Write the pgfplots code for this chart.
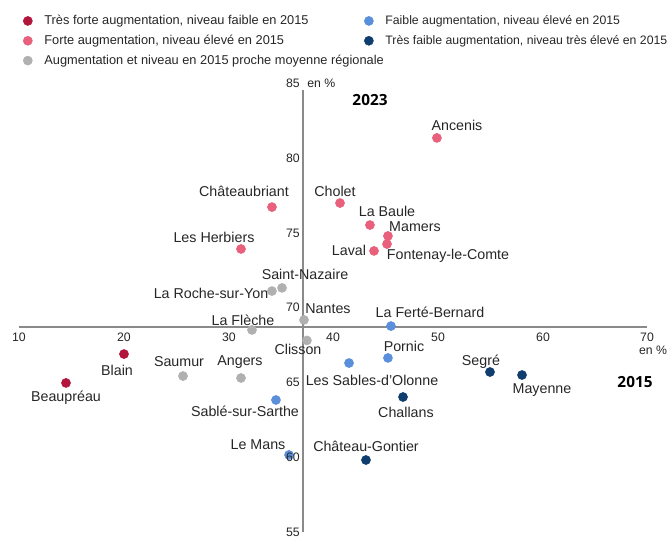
\documentclass[border=0pt]{standalone}
\usepackage{fontspec}
\setmainfont{Liberation Sans}
\newfontfamily\yearfont{Open Sans}
\usepackage{pgfplots}
\pgfplotsset{compat=1.18}
\definecolor{tresforte}{HTML}{B2163C}
\definecolor{forte}{HTML}{E9607C}
\definecolor{gris}{HTML}{B0B0B0}
\definecolor{faible}{HTML}{5A8FDB}
\definecolor{tresfaible}{HTML}{0F3D6E}
\definecolor{axisgray}{HTML}{8A8A8A}
\newcommand{\lab}[3]{\node[font=\fontsize{10.7}{12}\selectfont, inner sep=0pt, text=black!85] at ({(#1-19)*0.75pt},{(532-#2)*0.75pt}) {#3};}
\newcommand{\tk}[4]{\node[font=\fontsize{9.2}{11}\selectfont, inner sep=0pt, anchor=#4, text=black!85] at ({(#1-19)*0.75pt},{(532-#2)*0.75pt}) {#3};}
\newcommand{\lgA}[1]{\makebox[240pt][l]{\fontsize{9.6}{11}\selectfont #1}}
\newcommand{\lgB}[1]{{\fontsize{9.2}{11}\selectfont #1}}
\begin{document}
\begin{tikzpicture}
\useasboundingbox (-14.25pt,-3.75pt) rectangle (489.75pt,399pt);
\begin{axis}[
  at={(0pt,0pt)}, anchor=south west,
  scale only axis, width=471pt, height=336.75pt,
  xmin=10, xmax=70, ymin=55, ymax=85,
  axis lines=none, clip=false,
  legend columns=2,
  legend cell align=left,
  legend image code/.code={\draw[#1] plot coordinates {(0pt,0pt)};},
  legend style={at={(0.0064,1.1515)}, anchor=north west, draw=none, fill=none,
    inner sep=0pt, font=\fontsize{9.6}{11}\selectfont,
    nodes={inner sep=0pt, text=black!85},
    row sep=6.3pt,
    /tikz/every odd column/.append style={column sep=9pt},
  },
]
\draw[axisgray, line width=1.1pt] (axis cs:10,68.7) -- (axis cs:70,68.7);
\draw[axisgray, line width=1.1pt] (axis cs:37.12,55) -- (axis cs:37.12,84.5);
% Tres forte
\addplot[only marks, mark=*, mark size=3.4pt, color=tresforte] coordinates {
 (20.03,66.89) (14.49,64.96)};
\addlegendentry{\lgA{Très forte augmentation, niveau faible en 2015}}
% Faible
\addplot[only marks, mark=*, mark size=3.4pt, color=faible] coordinates {
 (45.54,68.76) (45.25,66.63) (41.53,66.29) (34.55,63.82) (35.80,60.15)};
\addlegendentry{\lgB{Faible augmentation, niveau élevé en 2015}}
% Forte
\addplot[only marks, mark=*, mark size=3.4pt, color=forte] coordinates {
 (49.93,81.33) (34.17,76.71) (40.67,76.98) (43.53,75.51) (45.25,74.78)
 (45.16,74.24) (43.92,73.78) (31.21,73.91)};
\addlegendentry{\lgA{Forte augmentation, niveau élevé en 2015}}
% Tres faible
\addplot[only marks, mark=*, mark size=3.4pt, color=tresfaible] coordinates {
 (55.00,65.69) (58.06,65.49) (46.69,64.02) (43.15,59.81)};
\addlegendentry{\lgB{Très faible augmentation, niveau très élevé en 2015}}
% Gris
\addplot[only marks, mark=*, mark size=3.4pt, color=gris] coordinates {
 (35.13,71.31) (34.17,71.10) (37.23,69.17) (32.26,68.50) (37.51,67.80)
 (25.67,65.42) (31.21,65.29)};
\addlegendentry{\lgA{Augmentation et niveau en 2015 proche moyenne régionale}}
\end{axis}
% x tick labels
\tk{19}{337}{10}{center}
\tk{124}{337}{20}{center}
\tk{229}{337}{30}{center}
\tk{333}{337}{40}{center}
\tk{438}{337}{50}{center}
\tk{543}{337}{60}{center}
\tk{647}{337}{70}{center}
\tk{653}{350}{en \%}{center}
% y tick labels
\tk{300}{83}{85}{east}
\tk{300}{158}{80}{east}
\tk{300}{233}{75}{east}
\tk{300}{307}{70}{east}
\tk{300}{382}{65}{east}
\tk{300}{457}{60}{east}
\tk{300}{532}{55}{east}
\tk{307}{83}{en \%}{west}
% years
\node[font=\yearfont\bfseries\fontsize{11.5}{13}\selectfont, inner sep=0pt] at ({(370-19)*0.75pt},{(532-100)*0.75pt}) {2023};
\node[font=\yearfont\bfseries\fontsize{11.5}{13}\selectfont, inner sep=0pt] at ({(635-19)*0.75pt},{(532-382)*0.75pt}) {2015};
% point labels
\lab{457}{125}{Ancenis}
\lab{244}{191}{Châteaubriant}
\lab{335}{191}{Cholet}
\lab{387}{211}{La Baule}
\lab{415}{227}{Mamers}
\lab{349}{250}{Laval}
\lab{448}{256}{Fontenay-le-Comte}
\lab{214}{237}{Les Herbiers}
\lab{305}{274}{Saint-Nazaire}
\lab{211}{293}{La Roche-sur-Yon}
\lab{328}{309}{Nantes}
\lab{243}{320}{La Flèche}
\lab{298}{349}{Clisson}
\lab{430}{312}{La Ferté-Bernard}
\lab{404}{346}{Pornic}
\lab{372}{380}{Les Sables-d'Olonne}
\lab{481}{362}{Segré}
\lab{542}{390}{Mayenne}
\lab{406}{412}{Challans}
\lab{366}{446}{Château-Gontier}
\lab{258}{445}{Le Mans}
\lab{245}{411}{Sablé-sur-Sarthe}
\lab{240}{362}{Angers}
\lab{179}{362}{Saumur}
\lab{117}{370}{Blain}
\lab{66}{398}{Beaupréau}
\end{tikzpicture}
\end{document}
